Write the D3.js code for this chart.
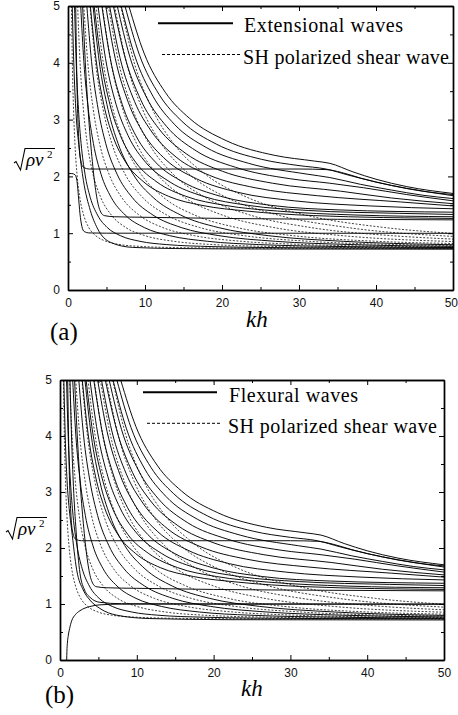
<!DOCTYPE html>
<html>
<head>
<meta charset="utf-8">
<script src="https://cdn.jsdelivr.net/npm/d3@7"></script>
<style>
  body { margin: 0; background: #fff; }
  svg { display: block; }
</style>
</head>
<body>
<svg></svg>
<script>
const width = 458;
const height = 715;

// axis ticks
const xTicks = [0, 10, 20, 30, 40, 50];
const xMinor = [5, 15, 25, 35, 45];
const yTicks = [0, 1, 2, 3, 4, 5];
const yMinor = [0.5, 1.5, 2.5, 3.5, 4.5];

// SH polarized shear waves (dashed), [kh, sqrt(rho v^2)]
const shWaves = [
  [[0.45,5],[0.56,4.02],[0.72,3.18],[0.9,2.58],[1.17,2.04],[1.53,1.63],[2.03,1.32],[2.7,1.1],[3.6,0.957],[4.95,0.857],[6.75,0.8],[9.9,0.764],[13.5,0.748],[18,0.74],[27,0.735],[50,0.732]],
  [[1.25,5],[1.56,4.02],[2.0,3.18],[2.5,2.58],[3.25,2.04],[4.25,1.63],[5.63,1.32],[7.5,1.1],[10,0.957],[13.75,0.857],[18.75,0.8],[27.5,0.764],[37.5,0.748],[50,0.74]],
  [[2.05,5],[2.56,4.02],[3.28,3.18],[4.1,2.58],[5.33,2.04],[6.97,1.63],[9.23,1.32],[12.3,1.1],[16.4,0.957],[22.55,0.857],[30.75,0.8],[45.1,0.764],[50,0.758]],
  [[2.85,5],[3.56,4.02],[4.56,3.18],[5.7,2.58],[7.41,2.04],[9.69,1.63],[12.83,1.32],[17.1,1.1],[22.8,0.957],[31.35,0.857],[42.75,0.8],[50,0.785]],
  [[3.65,5],[4.56,4.02],[5.84,3.18],[7.3,2.58],[9.49,2.04],[12.41,1.63],[16.43,1.32],[21.9,1.1],[29.2,0.957],[40.15,0.857],[50,0.819]],
  [[4.45,5],[5.56,4.02],[7.12,3.18],[8.9,2.58],[11.57,2.04],[15.13,1.63],[20.03,1.32],[26.7,1.1],[35.6,0.957],[50,0.853]],
  [[5.25,5],[6.56,4.02],[8.4,3.18],[10.5,2.58],[13.65,2.04],[17.85,1.63],[23.63,1.32],[31.5,1.1],[42,0.957],[50,0.896]],
  [[6.05,5],[7.56,4.02],[9.68,3.18],[12.1,2.58],[15.73,2.04],[20.57,1.63],[27.23,1.32],[36.3,1.1],[50,0.944]],
  [[6.85,5],[8.56,4.02],[10.96,3.18],[13.7,2.58],[17.81,2.04],[23.29,1.63],[30.83,1.32],[41.1,1.1],[50,0.996]]
];

// higher modes that level off between 1.25 and 1.7
const upperModes = [
  [[7.9,5],[9.88,4.17],[12.64,3.48],[15.8,3.02],[20.54,2.63],[26.86,2.37],[32,2.27],[34,2.23],[37,2.08],[40,1.95],[44,1.82],[50,1.7]],
  [[7.4,5],[9.25,4.15],[11.84,3.44],[14.8,2.97],[19.24,2.57],[25.16,2.3],[30,2.19],[33.5,2.13],[36.5,2.02],[40,1.9],[44,1.79],[50,1.66]],
  [[6.9,5],[8.63,4.14],[11.04,3.41],[13.8,2.92],[17.94,2.51],[23.46,2.23],[31.05,2.04],[34,1.98],[38,1.86],[42,1.76],[46,1.67],[50,1.61]],
  [[6.4,5],[8,4.12],[10.24,3.38],[12.8,2.88],[16.64,2.45],[21.76,2.16],[28.8,1.96],[34,1.88],[38.4,1.8],[44,1.68],[50,1.57]],
  [[5.9,5],[7.38,4.11],[9.44,3.35],[11.8,2.84],[15.34,2.4],[20.06,2.09],[26.55,1.88],[35.4,1.74],[42,1.62],[50,1.52]],
  [[5.4,5],[6.75,4.09],[8.64,3.32],[10.8,2.8],[14.04,2.34],[18.36,2.02],[24.3,1.8],[32.4,1.66],[43.2,1.55],[50,1.48]],
  [[4.9,5],[6.13,4.08],[7.84,3.3],[9.8,2.76],[12.74,2.29],[16.66,1.96],[22.05,1.72],[29.4,1.57],[39.2,1.48],[50,1.43]],
  [[4.4,5],[5.5,4.07],[7.04,3.27],[8.8,2.72],[11.44,2.24],[14.96,1.9],[19.8,1.65],[26.4,1.49],[35.2,1.41],[50,1.37]],
  [[3.9,5],[4.88,4.07],[6.24,3.27],[7.8,2.72],[10.14,2.24],[13.26,1.9],[17.55,1.65],[23.4,1.49],[31.2,1.4],[42.9,1.35],[50,1.33]],
  [[3.4,5],[4.25,4.07],[5.44,3.27],[6.8,2.72],[8.84,2.24],[11.56,1.9],[15.3,1.65],[20.4,1.49],[27.2,1.39],[37.4,1.32],[50,1.29]],
  [[2.9,5],[3.63,4.07],[4.64,3.27],[5.8,2.72],[7.54,2.24],[9.86,1.9],[13.05,1.65],[17.4,1.49],[23.2,1.39],[31.9,1.31],[50,1.26]]
];

// higher modes that sink into the 0.72-1.0 band
const lowerModes = [
  [[0.85,5],[1.06,4.02],[1.36,3.18],[1.7,2.58],[2.21,2.04],[2.89,1.63],[3.83,1.32],[5.1,1.1],[6.8,0.957],[9.35,0.857],[12.75,0.8],[18.7,0.764],[25.5,0.748],[34,0.74],[50,0.735]],
  [[1.65,5],[2.06,4.02],[2.64,3.18],[3.3,2.58],[4.29,2.04],[5.61,1.63],[7.43,1.32],[9.9,1.1],[13.2,0.957],[18.15,0.857],[24.75,0.8],[36.3,0.764],[50,0.748]],
  [[2.45,5],[3.06,4.02],[3.92,3.18],[4.9,2.58],[6.37,2.04],[8.33,1.63],[11.03,1.32],[14.7,1.1],[19.6,0.957],[26.95,0.857],[36.75,0.8],[50,0.769]],
  [[3.25,5],[4.06,4.02],[5.2,3.18],[6.5,2.58],[8.45,2.04],[11.05,1.63],[14.63,1.32],[19.5,1.1],[26,0.957],[35.75,0.857],[48.75,0.8],[50,0.797]]
];

// mode following the ~2.13 plateau up to kh = 34
const plateauMode = [[1.0,5],[1.1,4.1],[1.22,3.3],[1.38,2.7],[1.6,2.32],[2.0,2.16],[2.8,2.13],[10,2.13],[20,2.13],[30,2.13],[33.5,2.12],[35.5,2.07],[38,1.97],[42,1.84],[46,1.74],[50,1.68]];
// mode flattening near 1.25
const midMode = [[1.9,5],[2.25,4.0],[2.65,3.1],[3.1,2.35],[3.6,1.75],[4.1,1.42],[4.7,1.31],[6,1.29],[10,1.28],[20,1.26],[35,1.245],[50,1.235]];

// (a) extensional fundamentals
const extFirst = [[0,2.05],[0.5,2.05],[0.9,2.03],[1.15,1.93],[1.35,1.66],[1.55,1.35],[1.8,1.12],[2.1,1.03],[2.7,1.005],[5,1.0],[20,1.0],[50,0.998]];
const extSecond = [[0.55,5],[0.75,4.0],[1.05,3.1],[1.45,2.5],[2.0,1.93],[2.9,1.4],[3.8,1.09],[5.5,0.84],[8.4,0.75],[14,0.73],[25,0.722],[50,0.718]];

// (b) flexural fundamentals
const flexFirst = [[0.87,0],[0.9,0.15],[0.96,0.3],[1.06,0.42],[1.25,0.56],[1.52,0.7],[2.0,0.81],[2.6,0.88],[3.9,0.955],[5.2,0.985],[8,0.998],[20,1.0],[50,0.998]];
const flexSecond = [[0.5,5],[0.68,4.0],[0.92,3.2],[1.2,2.7],[1.52,2.32],[2.17,1.61],[3.03,1.25],[3.9,1.07],[5.2,0.92],[7.4,0.8],[11.7,0.74],[22,0.72],[50,0.715]];
const flexThird = [[1.3,5],[1.5,4.0],[1.75,3.1],[2.1,2.3],[2.6,1.55],[3.2,1.25],[3.9,1.12],[5.2,1.03],[8,1.005],[20,1.0],[50,0.997]];

const legendA = ["Extensional waves", "SH polarized shear wave"];
const legendB = ["Flexural waves", "SH polarized shear wave"];

let svg = d3.select("svg")
    .attr("width", width)
    .attr("height", height);

svg.append("rect").attr("width", width).attr("height", height).attr("fill", "#fff");

const serif = "'Liberation Serif', 'Times New Roman', serif";
const sans = "'Liberation Sans', Arial, sans-serif";

function drawPanel(p) {
    const scX = d3.scaleLinear().domain([0, 50]).range([p.x0, p.x1]);
    const scY = d3.scaleLinear().domain([0, 5]).range([p.y1, p.y0]);

    const clipId = "clip-" + p.id;
    svg.append("clipPath").attr("id", clipId)
       .append("rect")
       .attr("x", p.x0).attr("y", p.y0)
       .attr("width", p.x1 - p.x0).attr("height", p.y1 - p.y0);

    const line = d3.line()
        .x(d => scX(d[0]))
        .y(d => scY(d[1]))
        .curve(d3.curveMonotoneX);

    const g = svg.append("g").attr("clip-path", `url(#${clipId})`);

    g.selectAll(".sh")
     .data(shWaves)
     .enter()
     .append("path")
     .attr("d", line)
     .attr("fill", "none")
     .attr("stroke", "#111")
     .attr("stroke-width", 0.8)
     .attr("stroke-dasharray", "2,1.6");

    g.selectAll(".mode")
     .data(p.solid)
     .enter()
     .append("path")
     .attr("d", line)
     .attr("fill", "none")
     .attr("stroke", "#000")
     .attr("stroke-width", 0.95);

    const fmt = d3.format("d");
    // axes, ticks pointing inward on all four sides
    const axes = [
        { ax: d3.axisBottom(scX).tickValues(xTicks).tickSizeInner(-5).tickSizeOuter(0).tickPadding(8.5).tickFormat(fmt), t: `translate(0,${p.y1})`, bottom: true },
        { ax: d3.axisBottom(scX).tickValues(xMinor).tickSizeInner(-3).tickSizeOuter(0).tickFormat(""), t: `translate(0,${p.y1})` },
        { ax: d3.axisTop(scX).tickValues(xTicks).tickSizeInner(-5).tickSizeOuter(0).tickFormat(""), t: `translate(0,${p.y0})` },
        { ax: d3.axisTop(scX).tickValues(xMinor).tickSizeInner(-3).tickSizeOuter(0).tickFormat(""), t: `translate(0,${p.y0})` },
        { ax: d3.axisLeft(scY).tickValues(yTicks).tickSizeInner(-5).tickSizeOuter(0).tickPadding(8).tickFormat(fmt), t: `translate(${p.x0},0)` },
        { ax: d3.axisLeft(scY).tickValues(yMinor).tickSizeInner(-3).tickSizeOuter(0).tickFormat(""), t: `translate(${p.x0},0)` },
        { ax: d3.axisRight(scY).tickValues(yTicks).tickSizeInner(-5).tickSizeOuter(0).tickFormat(""), t: `translate(${p.x1},0)` },
        { ax: d3.axisRight(scY).tickValues(yMinor).tickSizeInner(-3).tickSizeOuter(0).tickFormat(""), t: `translate(${p.x1},0)` }
    ];
    for (let a of axes) {
        let ga = svg.append("g").attr("transform", a.t).call(a.ax);
        ga.select(".domain").attr("stroke", "#000").attr("stroke-width", 1.4);
        ga.selectAll(".tick line").attr("stroke", "#000").attr("stroke-width", 1);
        ga.selectAll("text")
          .attr("font-family", sans)
          .attr("font-size", 12)
          .attr("fill", "#111");
        // the last x label sits on the page edge; pull it in a little
        if (a.bottom && p.x1 + 7 > width) {
            ga.selectAll(".tick text").filter(d => d === 50)
              .attr("text-anchor", "end").attr("dx", 4.5);
        }
    }

    // y axis title: square root of rho v^2
    const B = p.labelY;
    const x0 = p.x0;
    svg.append("path")
       .attr("d", `M${x0 - 54},${B - 3} L${x0 - 52},${B - 4.5} L${x0 - 47.5},${B + 4} L${x0 - 43},${B - 17.5} H${x0 - 13}`)
       .attr("fill", "none")
       .attr("stroke", "#000")
       .attr("stroke-width", 1.1);
    svg.append("text")
       .attr("x", x0 - 42).attr("y", B)
       .attr("font-family", serif).attr("font-style", "italic")
       .attr("font-size", 19)
       .text("ρv");
    svg.append("text")
       .attr("x", x0 - 21).attr("y", B - 8)
       .attr("font-family", serif)
       .attr("font-size", 11)
       .text("2");

    // x axis title
    svg.append("text")
       .attr("x", p.khX).attr("y", p.khY)
       .attr("font-family", serif).attr("font-style", "italic")
       .attr("font-size", 23)
       .text("kh");

    // panel tag
    svg.append("text")
       .attr("x", p.tagX).attr("y", p.tagY)
       .attr("font-family", serif)
       .attr("font-size", 25)
       .text(p.tag);

    // legend
    svg.append("line")
       .attr("x1", p.leg[0].x1).attr("x2", p.leg[0].x2)
       .attr("y1", p.leg[0].y).attr("y2", p.leg[0].y)
       .attr("stroke", "#000").attr("stroke-width", 2);
    svg.append("line")
       .attr("x1", p.leg[1].x1).attr("x2", p.leg[1].x2)
       .attr("y1", p.leg[1].y).attr("y2", p.leg[1].y)
       .attr("stroke", "#000").attr("stroke-width", 1)
       .attr("stroke-dasharray", "3,2");
    svg.selectAll(".leg-" + p.id)
       .data(p.legendText)
       .enter()
       .append("text")
       .attr("x", (d, i) => p.leg[i].tx)
       .attr("y", (d, i) => p.leg[i].ty)
       .attr("font-family", serif)
       .attr("font-size", 20)
       .attr("textLength", (d, i) => p.leg[i].w)
       .attr("lengthAdjust", "spacing")
       .text(d => d);
}

drawPanel({
    id: "a", x0: 68, x1: 453, y0: 6, y1: 290,
    solid: [...upperModes, ...lowerModes, plateauMode, midMode, extFirst, extSecond],
    labelY: 166, khX: 246, khY: 327, tag: "(a)", tagX: 50, tagY: 340,
    legendText: legendA,
    leg: [
        { x1: 158, x2: 233, y: 23.3, tx: 244, ty: 32, w: 159 },
        { x1: 162, x2: 240, y: 54.5, tx: 243, ty: 63.5, w: 206 }
    ]
});

drawPanel({
    id: "b", x0: 60, x1: 444, y0: 380, y1: 660,
    solid: [...upperModes, ...lowerModes, plateauMode, midMode, flexFirst, flexSecond, flexThird],
    labelY: 535, khX: 241, khY: 696, tag: "(b)", tagX: 45, tagY: 703,
    legendText: legendB,
    leg: [
        { x1: 143, x2: 217, y: 392.3, tx: 229, ty: 401.5, w: 129 },
        { x1: 147, x2: 221, y: 423.3, tx: 228, ty: 433, w: 209 }
    ]
});
</script>
</body>
</html>
